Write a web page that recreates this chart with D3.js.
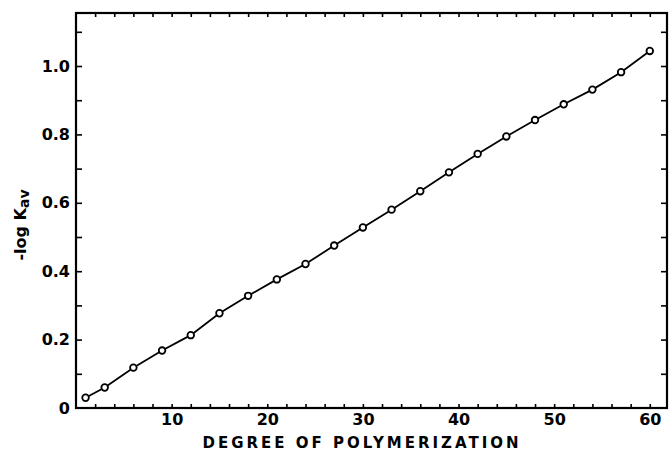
<!DOCTYPE html>
<html>
<head>
<meta charset="utf-8">
<script src="https://cdn.jsdelivr.net/npm/d3@7"></script>
<style>
	body { margin: 0; background: white; }
	svg { display: block; }
	text { font-family: 'DejaVu Sans', sans-serif; font-weight: bold; fill: #000; }
</style>
</head>
<body>
<svg width="669" height="451"></svg>
<script>
// degree of polymerization vs -log Kav
let dp = [1, 3, 6, 9, 12, 15, 18, 21, 24, 27, 30, 33, 36, 39, 42, 45, 48, 51, 54, 57, 60];
let logKav = [0.030, 0.060, 0.118, 0.168, 0.213, 0.277, 0.328, 0.376, 0.421, 0.475, 0.528,
	0.580, 0.634, 0.689, 0.743, 0.794, 0.842, 0.888, 0.931, 0.982, 1.044];

let xTickLabels = [10, 20, 30, 40, 50, 60];
let yTickLabels = [0, 0.2, 0.4, 0.6, 0.8, 1.0];

let data = dp.map((d, i) => ({ dp: d, v: logKav[i] }));

let svg = d3.select('svg');

let margin = { 'top': 13, 'right': 2, 'bottom': 43, 'left': 76 };

let width = + svg.attr('width') - margin.left - margin.right;
let height = + svg.attr('height') - margin.top - margin.bottom;

let chart = svg
	.append('g')
	.attr('transform', 'translate(' + margin.left + ', ' + margin.top + ')');

let x = d3
	.scaleLinear()
	.domain([0, 61.8])
	.range([0, width]);

let y = d3
	.scaleLinear()
	.domain([0, 1.155])
	.range([height, 0]);

// small inward ticks all round
let xMinor = d3.range(2, 61, 2);
let yMinor = d3.range(0.1, 1.15, 0.1);

function tickAxis(axis, ticks, size) {
	return axis
		.tickValues(ticks)
		.tickSize(size)
		.tickFormat('');
}

chart.append('g')
	.attr('transform', 'translate(0, ' + height + ')')
	.call(tickAxis(d3.axisTop(x), xMinor, 4));
chart.append('g')
	.call(tickAxis(d3.axisBottom(x), xMinor, 4));
chart.append('g')
	.call(tickAxis(d3.axisRight(y), yMinor, 6));
chart.append('g')
	.attr('transform', 'translate(' + width + ', 0)')
	.call(tickAxis(d3.axisLeft(y), yMinor, 6));

chart.selectAll('.domain').remove();
chart.selectAll('.tick line')
	.attr('stroke', '#000')
	.attr('stroke-width', 1.6);

// frame
chart.append('rect')
	.attr('x', 0)
	.attr('y', 0)
	.attr('width', width)
	.attr('height', height)
	.attr('fill', 'none')
	.attr('stroke', '#000')
	.attr('stroke-width', 2.2);

// tick labels
let xAxis = d3.axisBottom(x)
	.tickValues(xTickLabels)
	.tickSize(0)
	.tickPadding(6)
	.tickFormat(d3.format('d'));
let gx = chart.append('g')
	.attr('transform', 'translate(0, ' + height + ')')
	.call(xAxis);
gx.select('.domain').remove();
gx.selectAll('text').style('font-size', '16px');

let yAxis = d3.axisLeft(y)
	.tickValues(yTickLabels)
	.tickSize(0)
	.tickPadding(6)
	.tickFormat(d => d === 0 ? '0' : d3.format('.1f')(d));
let gy = chart.append('g')
	.call(yAxis);
gy.select('.domain').remove();
gy.selectAll('text').style('font-size', '16px');

// line through the points
let line = d3.line()
	.x(d => x(d.dp))
	.y(d => y(d.v));

chart.append('path')
	.datum(data)
	.attr('fill', 'none')
	.attr('stroke', '#000')
	.attr('stroke-width', 1.8)
	.attr('d', line);

chart.selectAll('circle')
	.data(data)
	.enter()
	.append('circle')
	.attr('cx', d => x(d.dp))
	.attr('cy', d => y(d.v))
	.attr('r', 3.3)
	.attr('fill', 'white')
	.attr('stroke', '#000')
	.attr('stroke-width', 1.8);

// axis titles
svg.append('text')
	.attr('x', 362)
	.attr('y', 448)
	.attr('text-anchor', 'middle')
	.style('font-size', '15px')
	.style('letter-spacing', '3px')
	.text('DEGREE OF POLYMERIZATION');

let yTitle = svg.append('text')
	.attr('transform', 'translate(26, 225) rotate(-90)')
	.attr('text-anchor', 'middle')
	.style('font-size', '16px');
yTitle.append('tspan').text('-log K');
yTitle.append('tspan')
	.attr('dy', 3)
	.style('font-size', '14px')
	.text('av');
</script>
</body>
</html>
